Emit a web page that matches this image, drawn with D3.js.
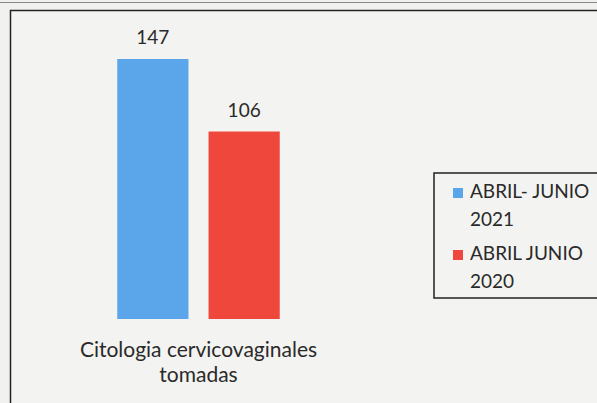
<!DOCTYPE html>
<html><head><meta charset="utf-8">
<script src="https://cdn.jsdelivr.net/npm/d3@7"></script>
<style>html,body{margin:0;padding:0;background:#f1f1ef;}svg{display:block;}</style>
</head><body>
<script>
const categories = ["Citologia cervicovaginales tomadas"];
const categoryLines = ["Citologia cervicovaginales", "tomadas"];
const seriesNames = ["ABRIL- JUNIO 2021", "ABRIL JUNIO 2020"];
const legendLines = [["ABRIL- JUNIO", "2021"], ["ABRIL JUNIO", "2020"]];
const values2021 = [147];
const values2020 = [106];
const colors = ["#5ba6ea", "#f0473c"];

const W = 597, H = 403;
const svg = d3.select("body").append("svg").attr("width", W).attr("height", H);
const font = "Lato, 'Open Sans', sans-serif";
const textColor = "#2a2a2a";

// frame
svg.append("line").attr("x1", 0).attr("x2", W).attr("y1", 2.5).attr("y2", 2.5)
  .attr("stroke", "#888").attr("stroke-width", 1);
svg.append("rect").attr("x", 10.5).attr("y", 10.5).attr("width", W).attr("height", H)
  .attr("fill", "#f3f3f1").attr("stroke", "#222").attr("stroke-width", 1.5);

const series = [values2021, values2020];
const x0 = d3.scaleBand().domain(categories).range([99, 298]);
const x1 = d3.scaleBand().domain(seriesNames).range([0, x0.bandwidth()]).paddingInner(0.22).paddingOuter(0.2);
const y = d3.scaleLinear().domain([0, 147]).range([319, 59]);

categories.forEach((c, ci) => {
  seriesNames.forEach((s, si) => {
    const v = series[si][ci];
    const bx = x0(c) + x1(s);
    svg.append("rect").attr("x", bx).attr("y", y(v))
      .attr("width", x1.bandwidth()).attr("height", y(0) - y(v))
      .attr("fill", colors[si]);
    svg.append("text").attr("x", bx + x1.bandwidth() / 2).attr("y", y(v) - 15)
      .attr("text-anchor", "middle").attr("font-family", font).attr("font-size", 19)
      .attr("fill", textColor).text(v);
  });
  const cx = x0(c) + x0.bandwidth() / 2;
  categoryLines.forEach((l, li) => {
    svg.append("text").attr("x", cx).attr("y", 357 + li * 25)
      .attr("text-anchor", "middle").attr("font-family", font).attr("font-size", 21)
      .attr("fill", textColor).text(l);
  });
});

// legend
const lg = svg.append("g");
lg.append("rect").attr("x", 434).attr("y", 173).attr("width", 200).attr("height", 125)
  .attr("fill", "#f3f3f1").attr("stroke", "#222").attr("stroke-width", 1.5);
legendLines.forEach((lines, i) => {
  const by = 198 + i * 62;
  lg.append("rect").attr("x", 453).attr("y", by - 10).attr("width", 10).attr("height", 10)
    .attr("fill", colors[i]);
  lines.forEach((l, li) => {
    lg.append("text").attr("x", 470).attr("y", by + li * 28)
      .attr("font-family", font).attr("font-size", 19).attr("fill", textColor).text(l);
  });
});
</script>
</body></html>
